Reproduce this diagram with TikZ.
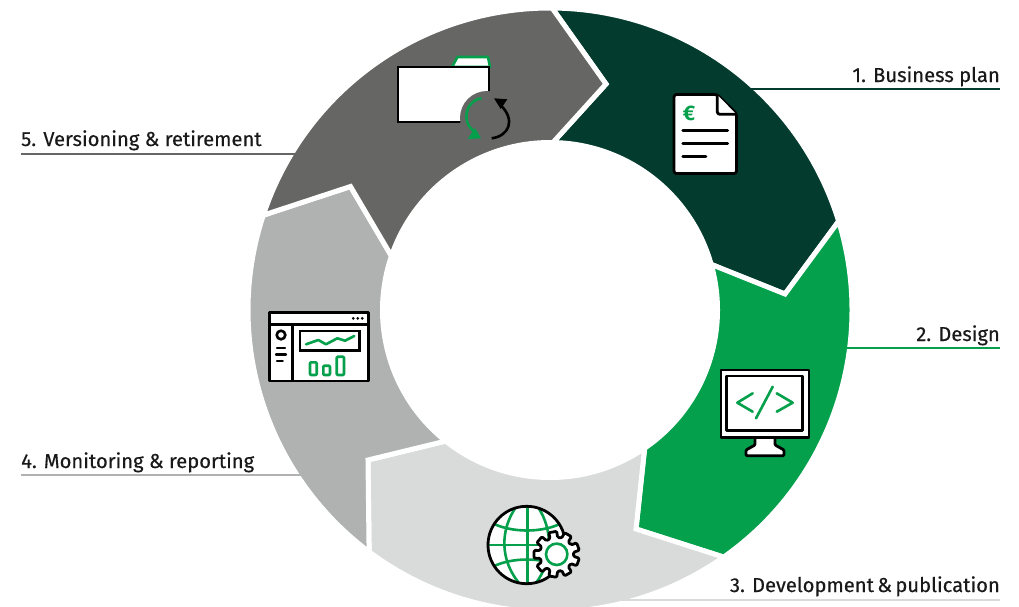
\documentclass[tikz,border=0pt]{standalone}
\usepackage{fontspec}
\setmainfont{Fira Sans}
\newfontfamily\lblfont[FakeBold=0.35]{Fira Sans}

\definecolor{seggreen}{HTML}{033C2E}
\definecolor{segbright}{HTML}{04A04B}
\definecolor{seglight}{HTML}{D9DBDA}
\definecolor{segmid}{HTML}{B0B2B1}
\definecolor{segdark}{HTML}{666665}

\tikzset{
  seg/.style={draw=white,line width=5pt,line join=miter},
  lbl/.style={inner sep=0pt,text=black!90,font=\lblfont\fontsize{20.2}{22}\selectfont},
  lead/.style={line width=2.7pt},
  ink/.style={draw=black,line width=2.8pt,fill=white,line join=round},
  pen/.style={draw=segbright,line width=2.6pt,line cap=round,line join=round}
}

\begin{document}
\begin{tikzpicture}[x=1pt,y=-1pt]
\useasboundingbox (0,0) rectangle (1019,606);

\node[lbl,anchor=base east] (bp) at (1000,82) {1. Business plan};
\node[lbl,anchor=base east] (de) at (1000,341) {2. Design};
\node[lbl,anchor=base east] (dp) at (1000,592) {3. Development\,\&\,publication};
\node[lbl,anchor=base west] (mr) at (21,468) {4. Monitoring \& reporting};
\node[lbl,anchor=base west] (vr) at (21,146) {5. Versioning \& retirement};

% ring
\begin{scope}[shift={(550,310)}]
\filldraw[seg,fill=seggreen] (-89.6:302) arc[start angle=-89.6,end angle=-17.1,radius=302] -- (235,-16) -- (-15.8:167.5) arc[start angle=-15.8,end angle=-89,radius=167.5] -- (56,-226) -- cycle;
\filldraw[seg,fill=segbright] (-17.1:302) arc[start angle=-17.1,end angle=54.9,radius=302] -- (86,219) -- (55.6:167.5) arc[start angle=55.6,end angle=-15.8,radius=167.5] -- (235,-16) -- cycle;
\filldraw[seg,fill=seglight] (54.9:302) arc[start angle=54.9,end angle=126.8,radius=302] -- (-182,150) -- (128.5:167.5) arc[start angle=128.5,end angle=55.6,radius=167.5] -- (86,219) -- cycle;
\filldraw[seg,fill=segmid] (126.8:302) arc[start angle=126.8,end angle=198.3,radius=302] -- (-199.5,-123.5) -- (198.8:167.5) arc[start angle=198.8,end angle=128.5,radius=167.5] -- (-182,150) -- cycle;
\filldraw[seg,fill=segdark] (198.3:302) arc[start angle=198.3,end angle=270.4,radius=302] -- (56,-226) -- (271:167.5) arc[start angle=271,end angle=198.8,radius=167.5] -- (-199.5,-123.5) -- cycle;
\end{scope}

\coordinate (bpEnd) at (750,89);
\coordinate (deEnd) at (840,348);
\coordinate (dpEnd) at (610,600);
\coordinate (mrEnd) at (310,475);
\coordinate (vrEnd) at (300,154);

\draw[lead,seggreen] (bp.east |- bpEnd) -- (bpEnd);
\draw[lead,segbright] (de.east |- deEnd) -- (deEnd);
\draw[lead,seglight] (dp.east |- dpEnd) -- (dpEnd);
\draw[lead,segmid] (mr.west |- mrEnd) -- (mrEnd);
\draw[lead,segdark] (vr.west |- vrEnd) -- (vrEnd);

% document
\draw[ink,rounded corners=2.5pt] (674,94.5) -- (717,94.5) -- (736.5,113.5) -- (736.5,173.5) -- (674,173.5) -- cycle;
\draw[ink,rounded corners=2.5pt] (717.3,95) -- (717.3,114.3) -- (736.5,114.3);
\node[inner sep=0pt,text=segbright,font=\fontsize{21}{22}\bfseries\selectfont] (euro) at (689,113) {€};
\draw[line width=2.6pt,line cap=round] (682.7,130.7) -- (727.7,130.7);
\draw[line width=2.6pt,line cap=round] (682.7,143.7) -- (727.7,143.7);
\draw[line width=2.6pt,line cap=round] (682.7,156.3) -- (706,156.3);

% monitor
\draw[ink,rounded corners=1pt] (755,437.3) -- (755,445) -- (746,450) -- (746,455.7) -- (784,455.7) -- (784,450) -- (775,445) -- (775,437.3);
\draw[ink] (721,370) rectangle (809,437.3);
\draw[ink] (726.7,376) rectangle (802.7,430.7);
\draw[pen] (752.7,393.3) -- (737.3,402.7) -- (752.7,411.7);
\draw[pen] (776.7,393.3) -- (792.7,402.7) -- (776.7,411.7);
\draw[pen] (772.7,386.7) -- (756,418.3);

% globe
\fill[white] (526.7,545) circle[radius=38.7];
\begin{scope}
\clip (526.7,545) circle[radius=38.7];
\draw[pen] (488,545) -- (566,545);
\draw[pen] (527.3,506) -- (527.3,584);
\draw[pen] (492,523) .. controls (512,533) and (542,533) .. (562,523);
\draw[pen] (492,567) .. controls (512,557) and (542,557) .. (562,567);
\draw[pen] (516,507) .. controls (500,530) and (500,560) .. (519,583);
\draw[pen] (538,507) .. controls (553,530) and (553,560) .. (536,583);
\end{scope}
\draw[draw=black,line width=2.8pt] (526.7,545) circle[radius=38.7];

% gear
\begin{scope}[shift={(556.7,554.3)}]
\draw[ink,rounded corners=1.2pt] (-33:17) \foreach \a in {-20,20,...,300} {
  -- (\a-10:23) -- (\a+10:23) -- (\a+13:17) -- (\a+27:17)
} -- cycle;
\draw[pen] (0,0) circle[radius=10.7];
\end{scope}

% dashboard
\draw[ink] (269.3,312.3) rectangle (368.3,381);
\draw[black,line width=2.8pt] (269.3,324.3) -- (368.3,324.3);
\draw[black,line width=2.8pt] (292.3,324.3) -- (292.3,381);
\fill (353.3,318.3) circle[radius=1.5];
\fill (357.8,318.3) circle[radius=1.5];
\fill (362.3,318.3) circle[radius=1.5];
\draw[black,line width=2.6pt] (281,335) circle[radius=4.3];
\draw[black,line width=2.4pt,line cap=round] (277,347.7) -- (285,347.7);
\draw[black,line width=2.4pt,line cap=round] (276,354.3) -- (286,354.3);
\draw[black,line width=2.4pt,line cap=round] (277,360.7) -- (282.7,360.7);
\draw[black,line width=2.8pt] (300,331) rectangle (359.3,350.7);
\draw[pen] (306,344.3) -- (318.3,340) -- (326,344.3) -- (337.3,338.3) -- (345,340.7) -- (354.3,336);
\draw[pen,rounded corners=1pt] (310,362.3) rectangle (316.7,375);
\draw[pen,rounded corners=1pt] (323.3,365.7) rectangle (330,375);
\draw[pen,rounded corners=1pt] (336.7,356.7) rectangle (344,375);

% folder
\draw[draw=segbright,line width=2.6pt,fill=white,line join=round] (452,67) -- (457.5,57) -- (488,57) -- (490,67) -- cycle;
\draw[ink,line join=miter] (398,67) rectangle (489,122);
\fill[segdark] (487,118) circle[radius=27];
\draw[draw=segbright,line width=2.6pt] (481.5,98.3) .. controls (466,100) and (460,122) .. (475,132);
\fill[segbright] (467.7,139) -- (481,138.3) -- (475,128) -- cycle;
\draw[draw=black,line width=2.6pt] (491.7,138.3) .. controls (509,136) and (516,120) .. (500.5,105);
\fill[black] (494,98.3) -- (507.3,99.3) -- (500.7,109) -- cycle;
\end{tikzpicture}
\end{document}
